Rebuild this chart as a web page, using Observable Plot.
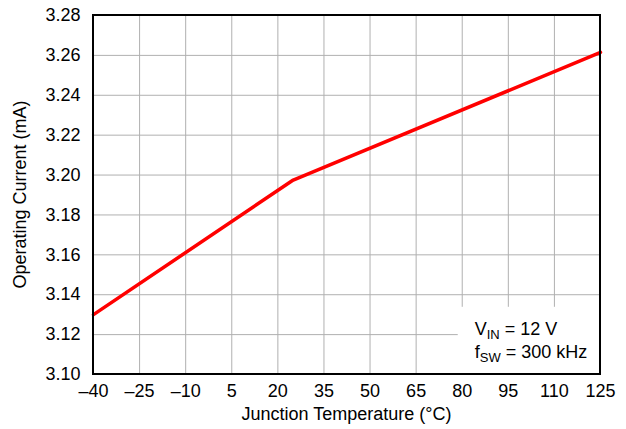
<!DOCTYPE html>
<html>
<head>
<meta charset="utf-8">
<script src="https://cdn.jsdelivr.net/npm/d3@7"></script>
<script src="https://cdn.jsdelivr.net/npm/@observablehq/plot@0.6"></script>
<style>
  html, body { margin: 0; padding: 0; background: #fff; }
  svg { font-family: "Liberation Sans", Arial, sans-serif; }
</style>
</head>
<body>
<div id="chart"></div>
<script>
const temperatures = [-40, 25, 125];
const currents = [3.130, 3.1975, 3.2615];
const xTicks = [-40, -25, -10, 5, 20, 35, 50, 65, 80, 95, 110, 125];
const yTicks = [3.10, 3.12, 3.14, 3.16, 3.18, 3.20, 3.22, 3.24, 3.26, 3.28];

const data = temperatures.map((t, i) => ({t, c: currents[i]}));

const plot = Plot.plot({
  width: 626,
  height: 429,
  marginLeft: 93,
  marginRight: 26,
  marginTop: 15,
  marginBottom: 55,
  style: {fontSize: "18px", fontFamily: "Liberation Sans, Arial, sans-serif", color: "#000", background: "#fff"},
  x: {domain: [-40, 125], ticks: xTicks, label: null},
  y: {domain: [3.10, 3.28], ticks: yTicks, label: null},
  marks: [
    Plot.gridX(xTicks, {stroke: "#b0b0b0", strokeOpacity: 1, strokeWidth: 1}),
    Plot.gridY(yTicks, {stroke: "#b0b0b0", strokeOpacity: 1, strokeWidth: 1}),
    Plot.line(data, {x: "t", y: "c", stroke: "#ff0000", strokeWidth: 3.5}),
    Plot.axisX(xTicks, {tickSize: 0, tickPadding: 10, fontSize: 18, tickFormat: d => d < 0 ? "\u2013" + Math.abs(d) : String(d)}),
    Plot.axisY(yTicks, {tickSize: 0, tickPadding: 13, fontSize: 18, tickFormat: d => d.toFixed(2)}),
  ]
});

document.getElementById("chart").appendChild(plot);

const sx = plot.scale("x"), sy = plot.scale("y");
const svg = d3.select(plot);
const x0 = sx.apply(-40), x1 = sx.apply(125), y0 = sy.apply(3.28), y1 = sy.apply(3.10);

// legend box (white, hides grid)
const bx = sx.apply(78.7), by = sy.apply(3.1337);
svg.append("rect").attr("x", bx).attr("y", by).attr("width", x1 - bx).attr("height", y1 - by).attr("fill", "#fff");

// frame
svg.append("rect").attr("x", x0).attr("y", y0).attr("width", x1 - x0).attr("height", y1 - y0)
  .attr("fill", "none").attr("stroke", "#000").attr("stroke-width", 2);

// legend text
const lg = svg.append("g").attr("font-size", 18).attr("fill", "#000").attr("text-anchor", "start");
const t1 = lg.append("text").attr("x", bx + 17).attr("y", by + 28);
t1.append("tspan").text("V");
t1.append("tspan").attr("font-size", 13).attr("dy", 4).text("IN");
t1.append("tspan").attr("dy", -4).text(" = 12 V");
const t2 = lg.append("text").attr("x", bx + 17).attr("y", by + 51);
t2.append("tspan").text("f");
t2.append("tspan").attr("font-size", 13).attr("dy", 4).text("SW");
t2.append("tspan").attr("dy", -4).text(" = 300 kHz");

// axis labels
svg.append("text").attr("x", (x0 + x1) / 2).attr("y", 420).attr("text-anchor", "middle")
  .attr("font-size", 18).attr("fill", "#000").text("Junction Temperature (\u00B0C)");
svg.append("text").attr("transform", `translate(26,${(y0 + y1) / 2}) rotate(-90)`).attr("text-anchor", "middle")
  .attr("font-size", 18).attr("fill", "#000").text("Operating Current (mA)");
</script>
</body>
</html>
